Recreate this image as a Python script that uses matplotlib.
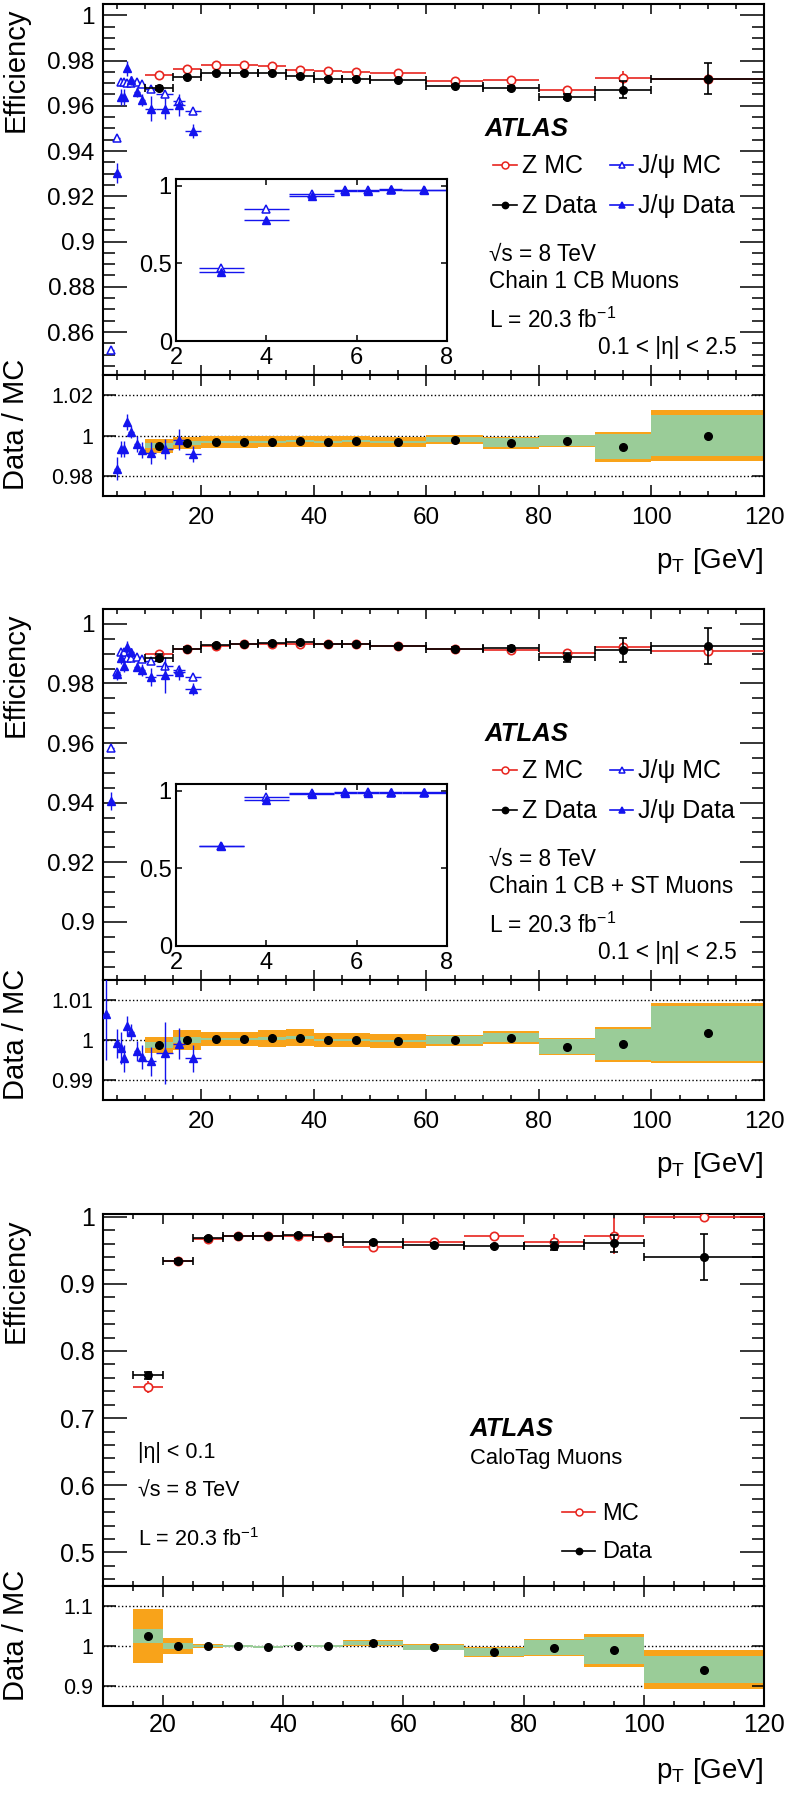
import numpy as np
import matplotlib
matplotlib.use("Agg")
import matplotlib.pyplot as plt
from matplotlib.lines import Line2D
from matplotlib.ticker import MultipleLocator, FormatStrFormatter

plt.rcParams['font.family'] = ['Liberation Sans', 'DejaVu Sans']
plt.rcParams['mathtext.fontset'] = 'custom'
plt.rcParams['mathtext.rm'] = 'Liberation Sans'
plt.rcParams['mathtext.it'] = 'Liberation Sans:italic'
plt.rcParams['mathtext.bf'] = 'Liberation Sans:bold'

# ---- binning ----
z_lo = [10, 15, 20, 25, 30, 35, 40, 45, 50, 60, 70, 80, 90, 100]
z_hi = [15, 20, 25, 30, 35, 40, 45, 50, 60, 70, 80, 90, 100, 120]
z_pt = [12.5, 17.5, 22.5, 27.5, 32.5, 37.5, 42.5, 47.5, 55, 65, 75, 85, 95, 110]

jp_lo = [2.5, 3.5, 4.5, 5.5, 6.0, 6.5, 7, 8, 9, 10, 12, 15, 17]
jp_hi = [3.5, 4.5, 5.5, 6.0, 6.5, 7, 8, 9, 10, 12, 15, 17, 20]
jp_pt = [3, 4, 5, 5.75, 6.25, 6.75, 7.5, 8.5, 9.5, 11, 13.5, 16, 18.5]

ct_lo = [15, 20, 25, 30, 35, 40, 45, 50, 60, 70, 80, 90, 100]
ct_hi = [20, 25, 30, 35, 40, 45, 50, 60, 70, 80, 90, 100, 120]
ct_pt = [17.5, 22.5, 27.5, 32.5, 37.5, 42.5, 47.5, 55, 65, 75, 85, 95, 110]

# ---- Chain 1 CB muons ----
cb_z_mc = [0.9735, 0.9762, 0.9780, 0.9782, 0.9776, 0.9760, 0.9753, 0.9749, 0.9743, 0.9709, 0.9716, 0.9669, 0.9725, 0.9719]
cb_z_mc_err = [0.0006, 0.0005, 0.0004, 0.0004, 0.0004, 0.0004, 0.0004, 0.0004, 0.0004, 0.0006, 0.0008, 0.0012, 0.0030, 0.0020]
cb_z_data = [0.9680, 0.9726, 0.9747, 0.9747, 0.9744, 0.9732, 0.9720, 0.9719, 0.9712, 0.9688, 0.9680, 0.9641, 0.9672, 0.9719]
cb_z_data_err = [0.0008, 0.0005, 0.0004, 0.0004, 0.0004, 0.0004, 0.0004, 0.0004, 0.0004, 0.0006, 0.0008, 0.0013, 0.0037, 0.0069]
cb_jp_mc = [0.467, 0.852, 0.9459, 0.9706, 0.9706, 0.9700, 0.9700, 0.9706, 0.9696, 0.9676, 0.9650, 0.9620, 0.9575]
cb_jp_mc_err = [0.005, 0.002, 0.001, 0.001, 0.001, 0.001, 0.001, 0.001, 0.001, 0.001, 0.0012, 0.0015, 0.0012]
cb_jp_data = [0.445, 0.778, 0.9304, 0.9639, 0.9639, 0.9765, 0.9713, 0.9661, 0.9625, 0.9588, 0.9588, 0.9603, 0.9488]
cb_jp_data_err = [0.005, 0.004, 0.0044, 0.0037, 0.0037, 0.0035, 0.002, 0.002, 0.0025, 0.0055, 0.0045, 0.005, 0.003]
cb_ratio = [0.9949, 0.9965, 0.9969, 0.9969, 0.9970, 0.9972, 0.9970, 0.9972, 0.9967, 0.9980, 0.9964, 0.9974, 0.9944, 1.0000]
cb_stat = [0.0013, 0.0010, 0.0005, 0.0005, 0.0005, 0.0005, 0.0005, 0.0005, 0.0006, 0.0013, 0.0023, 0.0028, 0.0061, 0.0102]
cb_tot = [0.0036, 0.0030, 0.0030, 0.0030, 0.0028, 0.0028, 0.0028, 0.0028, 0.0026, 0.0020, 0.0031, 0.0030, 0.0074, 0.0125]
cb_jp_ratio = [0.953, 0.923, 0.9836, 0.9935, 0.9935, 1.0065, 1.0018, 0.9957, 0.9927, 0.9914, 0.9932, 0.9980, 0.9907]
cb_jp_ratio_err = [0.010, 0.006, 0.0058, 0.004, 0.004, 0.004, 0.003, 0.004, 0.004, 0.0055, 0.005, 0.0054, 0.004]

# ---- Chain 1 CB + ST muons ----
st_z_mc = [0.9899, 0.9917, 0.9926, 0.9931, 0.9933, 0.9933, 0.9933, 0.9931, 0.9927, 0.9917, 0.9913, 0.9904, 0.9924, 0.9909]
st_z_mc_err = [0.0005, 0.0004, 0.0003, 0.0003, 0.0003, 0.0003, 0.0003, 0.0003, 0.0003, 0.0004, 0.0005, 0.0008, 0.0015, 0.0010]
st_z_data = [0.9887, 0.9917, 0.9928, 0.9931, 0.9937, 0.9939, 0.9933, 0.9931, 0.9925, 0.9916, 0.9919, 0.9888, 0.9912, 0.9926]
st_z_data_err = [0.0012, 0.0004, 0.0003, 0.0003, 0.0003, 0.0003, 0.0003, 0.0003, 0.0003, 0.0005, 0.0006, 0.0015, 0.0040, 0.0060]
st_jp_mc = [0.646, 0.9583, 0.9840, 0.9905, 0.9905, 0.9886, 0.9886, 0.9890, 0.9883, 0.9877, 0.9860, 0.9844, 0.9823]
st_jp_mc_err = [0.004, 0.001, 0.0008, 0.0008, 0.0008, 0.0008, 0.0008, 0.0008, 0.0008, 0.0008, 0.001, 0.001, 0.001]
st_jp_data = [0.644, 0.9406, 0.9832, 0.9886, 0.9860, 0.9921, 0.9905, 0.9857, 0.9844, 0.9821, 0.9829, 0.9838, 0.9782]
st_jp_data_err = [0.005, 0.003, 0.002, 0.002, 0.002, 0.002, 0.0015, 0.0015, 0.002, 0.003, 0.006, 0.0025, 0.002]
st_ratio = [0.99875, 1.0000, 1.0002, 1.0002, 1.0004, 1.0006, 1.0000, 1.0000, 0.9998, 0.9999, 1.0006, 0.9983, 0.9989, 1.0017]
st_stat = [0.0008, 0.0008, 0.0003, 0.0003, 0.0003, 0.0003, 0.0003, 0.0003, 0.0003, 0.0010, 0.0012, 0.0019, 0.0038, 0.0069]
st_tot = [0.0021, 0.0024, 0.0018, 0.0018, 0.0021, 0.0021, 0.0018, 0.0018, 0.0018, 0.0014, 0.0017, 0.0021, 0.0044, 0.0075]
st_jp_ratio = [1.0065, 0.9815, 0.9992, 0.9981, 0.9954, 1.0035, 1.0019, 0.9972, 0.9958, 0.9947, 0.9968, 0.9991, 0.9954]
st_jp_ratio_err = [0.0115, 0.003, 0.0036, 0.004, 0.0034, 0.0025, 0.002, 0.0025, 0.003, 0.0036, 0.0077, 0.0038, 0.0034]

# ---- CaloTag muons, |eta| < 0.1 ----
ct_mc = [0.7459, 0.9340, 0.9667, 0.9707, 0.9712, 0.9712, 0.9697, 0.9553, 0.9618, 0.9717, 0.9628, 0.9717, 1.0000]
ct_mc_err = [0.009, 0.002, 0.001, 0.001, 0.001, 0.001, 0.001, 0.002, 0.002, 0.002, 0.012, 0.027, 0.0]
ct_data = [0.7638, 0.9340, 0.9677, 0.9712, 0.9717, 0.9727, 0.9702, 0.9618, 0.9583, 0.9563, 0.9568, 0.9603, 0.9404]
ct_data_err = [0.005, 0.003, 0.002, 0.001, 0.001, 0.001, 0.002, 0.002, 0.002, 0.002, 0.006, 0.013, 0.034]
ct_ratio = [1.025, 1.000, 1.000, 1.000, 0.998, 1.001, 1.000, 1.008, 0.997, 0.984, 0.996, 0.989, 0.941]
ct_stat = [0.017, 0.007, 0.002, 0.002, 0.002, 0.002, 0.003, 0.005, 0.0067, 0.010, 0.018, 0.033, 0.034]
ct_tot = [0.067, 0.019, 0.006, 0.002, 0.002, 0.002, 0.003, 0.008, 0.0075, 0.0125, 0.0204, 0.042, 0.049]

W, H = 787, 1798
RED = '#e8251f'
BLUE = '#1414ee'
ORANGE = '#f8a31a'
GREEN = '#9acc98'

fig = plt.figure(figsize=(W / 100, H / 100), dpi=100)


def px_axes(l, t, r, b):
    return fig.add_axes([l / W, 1 - b / H, (r - l) / W, (b - t) / H])


def ftext(x, y, s, **kw):
    fig.text(x / W, 1 - y / H, s, **kw)


def style(ax, ymaj, ymin, xmaj=7, xmin=3.5):
    ax.tick_params(which='both', direction='in', top=True, right=True, width=1.1, colors='k')
    ax.tick_params(axis='y', which='major', length=ymaj)
    ax.tick_params(axis='y', which='minor', length=ymin)
    ax.tick_params(axis='x', which='major', length=xmaj)
    ax.tick_params(axis='x', which='minor', length=xmin)
    for s in ax.spines.values():
        s.set_linewidth(1.5)


def errs(pt, lo, hi):
    pt = np.asarray(pt, float)
    return pt, [pt - np.asarray(lo), np.asarray(hi) - pt]


def draw_z(ax, mc, mc_err, data, data_err, lo, hi, pt):
    x, xe = errs(pt, lo, hi)
    ax.errorbar(x, mc, xerr=xe, yerr=mc_err, fmt='o', color=RED, mfc='white', mec=RED,
                ms=6, mew=1.2, lw=1.2, capsize=0, zorder=3)
    ax.errorbar(x, data, xerr=xe, yerr=data_err, fmt='o', color='k', ms=5.5, lw=1.2,
                capsize=3, capthick=1.2, zorder=4)


def draw_jp(ax, mc, mc_err, data, data_err, ms=5.5):
    x, xe = errs(jp_pt, jp_lo, jp_hi)
    ax.errorbar(x, mc, xerr=xe, yerr=mc_err, fmt='^', color=BLUE, mfc='white', mec=BLUE,
                ms=ms, mew=1.1, lw=1.0, capsize=0, zorder=2)
    ax.errorbar(x, data, xerr=xe, yerr=data_err, fmt='^', color=BLUE, ms=ms, lw=1.0,
                capsize=0, zorder=2.5)


def eff_axes(t, b, ylim, major, minor, xlim, fs=17.5):
    ax = px_axes(103, t, 764, b)
    ax.set_xlim(*xlim)
    ax.set_ylim(*ylim)
    ax.xaxis.set_major_locator(MultipleLocator(20))
    ax.xaxis.set_minor_locator(MultipleLocator(5))
    ax.yaxis.set_major_locator(MultipleLocator(major))
    ax.yaxis.set_minor_locator(MultipleLocator(minor))
    ax.yaxis.set_major_formatter(FormatStrFormatter('%g'))
    ax.tick_params(labelbottom=False)
    ax.tick_params(axis='y', labelsize=fs, pad=6)
    style(ax, 17, 8.5)
    return ax


def ratio_axes(t, b, ylim, refs, xlim, xpad=8):
    ax = px_axes(103, t, 764, b)
    ax.set_xlim(*xlim)
    ax.set_ylim(*ylim)
    ax.xaxis.set_major_locator(MultipleLocator(20))
    ax.xaxis.set_minor_locator(MultipleLocator(5))
    ax.set_yticks(refs)
    ax.yaxis.set_major_formatter(FormatStrFormatter('%g'))
    for r in refs:
        ax.axhline(r, color='k', ls=':', lw=1.0, zorder=1)
    ax.tick_params(axis='y', labelsize=15.5, pad=7)
    ax.tick_params(axis='x', labelsize=17.5, pad=xpad)
    style(ax, 9, 0, 8, 3.5)
    return ax


def draw_bands(ax, ratio, stat, tot, lo, hi):
    lo = np.asarray(lo, float)
    wd = np.asarray(hi, float) - lo
    r = np.asarray(ratio)
    ax.bar(lo, 2 * np.asarray(tot), bottom=r - np.asarray(tot), width=wd, align='edge',
           color=ORANGE, lw=0, zorder=1.5)
    ax.bar(lo, 2 * np.asarray(stat), bottom=r - np.asarray(stat), width=wd, align='edge',
           color=GREEN, lw=0, zorder=1.6)


def inset(t, b, ytop, mc, mc_err, data, data_err):
    ax = px_axes(176, t, 447, b)
    ax.set_xlim(2, 8)
    ax.set_ylim(0, ytop)
    ax.set_xticks([2, 4, 6, 8])
    ax.set_yticks([0, 0.5, 1])
    ax.yaxis.set_major_formatter(FormatStrFormatter('%g'))
    ax.tick_params(which='both', direction='in', top=True, right=True, length=4.3, width=1.1,
                   labelsize=17)
    ax.tick_params(axis='y', pad=3)
    ax.tick_params(axis='x', pad=4)
    for s in ax.spines.values():
        s.set_linewidth(1.5)
    draw_jp(ax, mc, mc_err, data, data_err, ms=6)
    return ax


def legend_entry(x0, x1, y, color, marker, mfc, ms, label, tx, ty, size):
    fig.add_artist(Line2D([x0 / W, x1 / W], [1 - y / H, 1 - y / H], color=color, lw=1.2,
                          transform=fig.transFigure))
    fig.add_artist(Line2D([(x0 + x1) / 2 / W], [1 - y / H], marker=marker, ms=ms, mfc=mfc,
                          mec=color, mew=1.1, ls='none', transform=fig.transFigure))
    ftext(tx, ty, label, size=size, va='baseline')


def jpsi_texts(dy, chain):
    ftext(485, 136 + dy, 'ATLAS', size=18.5, weight='bold', style='italic', va='baseline')
    legend_entry(493, 517, 165 + dy, RED, 'o', 'white', 5, 'Z MC', 521.7, 172.7 + dy, 18)
    legend_entry(610, 633, 165 + dy, BLUE, '^', 'white', 4.5, 'J/ψ MC', 638.3, 172.7 + dy, 18)
    legend_entry(493, 517, 205 + dy, 'k', 'o', 'k', 4.5, 'Z Data', 521.7, 212.7 + dy, 18)
    legend_entry(610, 633, 205 + dy, BLUE, '^', BLUE, 4.5, 'J/ψ Data', 638.3, 212.7 + dy, 18)
    ftext(489, 260.7 + dy, '√s = 8 TeV', size=16.3, va='baseline')
    ftext(489, 288.3 + dy, chain, size=16.3, va='baseline')
    ftext(489, 327.7 + dy, 'L = 20.3 fb$^{-1}$', size=16.3, va='baseline')
    ftext(737, 354 + dy, '0.1 < |η| < 2.5', size=16.3, va='baseline', ha='right')


def axis_titles(eff_c, ratio_c, xl_base):
    ftext(16, eff_c, 'Efficiency', size=21, rotation=90, ha='center', va='center')
    ftext(16, ratio_c, 'Data / MC', size=21, rotation=90, ha='center', va='center')
    ftext(763, xl_base, r'p$_{\mathrm{T}}$ [GeV]', size=20, ha='right', va='baseline')


# ===== panel 1 : Chain 1 CB =====
ax1 = eff_axes(4, 375, (0.841, 1.005), 0.02, 0.005, (2.5, 120))
draw_jp(ax1, cb_jp_mc, cb_jp_mc_err, cb_jp_data, cb_jp_data_err)
draw_z(ax1, cb_z_mc, cb_z_mc_err, cb_z_data, cb_z_data_err, z_lo, z_hi, z_pt)
r1 = ratio_axes(375, 496, (0.97, 1.03), [0.98, 1.0, 1.02], (2.5, 120))
draw_bands(r1, cb_ratio, cb_stat, cb_tot, z_lo, z_hi)
r1.plot(z_pt, cb_ratio, 'o', color='k', ms=5.5, zorder=4)
x, xe = errs(jp_pt, jp_lo, jp_hi)
r1.errorbar(x, cb_jp_ratio, xerr=xe, yerr=cb_jp_ratio_err, fmt='^', color=BLUE, ms=5.5, lw=1.0,
            capsize=0, zorder=3)
inset(179, 341, 1.043, cb_jp_mc, cb_jp_mc_err, cb_jp_data, cb_jp_data_err)
jpsi_texts(0, 'Chain 1 CB Muons')
axis_titles(70, 424, 568)

# ===== panel 2 : Chain 1 CB + ST =====
ax2 = eff_axes(609, 980, (0.8805, 1.005), 0.02, 0.005, (2.5, 120))
draw_jp(ax2, st_jp_mc, st_jp_mc_err, st_jp_data, st_jp_data_err)
draw_z(ax2, st_z_mc, st_z_mc_err, st_z_data, st_z_data_err, z_lo, z_hi, z_pt)
r2 = ratio_axes(980, 1100, (0.985, 1.015), [0.99, 1.0, 1.01], (2.5, 120))
draw_bands(r2, st_ratio, st_stat, st_tot, z_lo, z_hi)
r2.plot(z_pt, st_ratio, 'o', color='k', ms=5.5, zorder=4)
r2.errorbar(x, st_jp_ratio, xerr=xe, yerr=st_jp_ratio_err, fmt='^', color=BLUE, ms=5.5, lw=1.0,
            capsize=0, zorder=3)
inset(784, 946, 1.045, st_jp_mc, st_jp_mc_err, st_jp_data, st_jp_data_err)
jpsi_texts(605, 'Chain 1 CB + ST Muons')
axis_titles(675, 1034, 1172)

# ===== panel 3 : CaloTag =====
ax3 = eff_axes(1214, 1586, (0.45, 1.004), 0.1, 0.02, (10, 120), fs=18)
draw_z(ax3, ct_mc, ct_mc_err, ct_data, ct_data_err, ct_lo, ct_hi, ct_pt)
r3 = ratio_axes(1586, 1706, (0.85, 1.15), [0.9, 1.0, 1.1], (10, 120), xpad=5)
r3.tick_params(axis='x', labelsize=18)
draw_bands(r3, ct_ratio, ct_stat, ct_tot, ct_lo, ct_hi)
r3.plot(ct_pt, ct_ratio, 'o', color='k', ms=5.5, zorder=4)
ftext(470, 1436, 'ATLAS', size=18.5, weight='bold', style='italic', va='baseline')
ftext(470, 1464, 'CaloTag Muons', size=15.8, va='baseline')
legend_entry(562, 595, 1511.7, RED, 'o', 'white', 5, 'MC', 602.5, 1520, 17)
legend_entry(562, 595, 1550.7, 'k', 'o', 'k', 4.5, 'Data', 602.5, 1558.3, 17)
ftext(137.5, 1458.3, '|η| < 0.1', size=15.5, va='baseline')
ftext(137.5, 1496, '√s = 8 TeV', size=15.5, va='baseline')
ftext(137.5, 1546, 'L = 20.3 fb$^{-1}$', size=15.5, va='baseline')
axis_titles(1281, 1635, 1778)

fig.savefig('out.png', dpi=100)
